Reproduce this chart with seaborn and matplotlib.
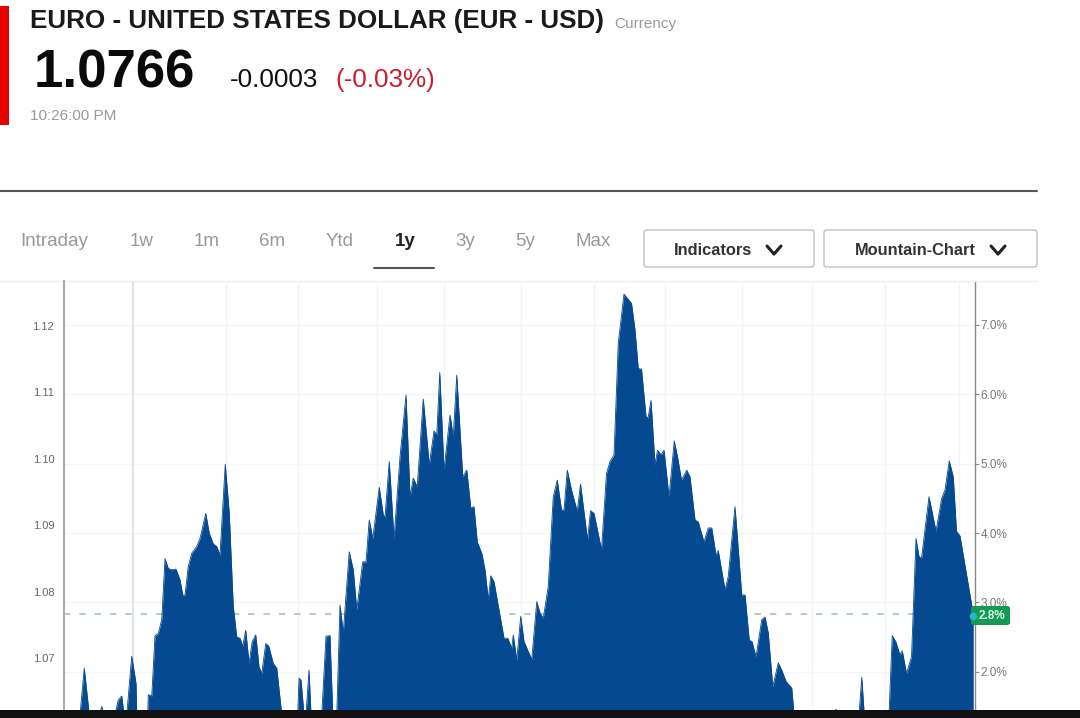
import matplotlib
matplotlib.use("Agg")
import matplotlib.pyplot as plt
from matplotlib.patches import FancyBboxPatch, Rectangle
from matplotlib.lines import Line2D
import pandas as pd
import seaborn as sns

# EUR-USD close over one year (day of the window, price)
days = [0, 6.4, 8.1, 10.1, 14.1, 15.1, 16.0, 20.4, 21.7, 23.1, 24.0, 25.1, 27.1, 28.8, 29.1, 33.5, 33.7, 35.1,
        36.4, 37.7, 39.1, 40.4, 41.7, 43.1, 44.8, 46.4, 47.5, 48.4, 49.7, 51.1, 53.1, 54.4, 56.7, 58.1, 59.7,
        61.1, 62.4, 64.5, 66.1, 67.7, 69.1, 70.4, 71.5, 72.7, 74.0, 75.3, 76.7, 78.0, 79.1, 80.7, 81.9, 83.7,
        85.1, 87.1, 93.5, 94.0, 94.8, 96.0, 96.8, 98.0, 98.8, 103.1, 104.8, 106.4, 107.5, 109.1, 110.4, 111.7,
        114.1, 115.7, 117.1, 119.5, 120.8, 122.1, 123.5, 126.1, 127.7, 128.4, 130.1, 132.0, 134.4, 136.8,
        138.4, 139.7, 141.3, 143.7, 146.1, 148.0, 149.1, 150.3, 152.0, 154.4, 155.7, 157.1, 159.5, 161.1,
        162.7, 164.0, 165.3, 167.1, 168.4, 169.7, 170.7, 172.0, 176.0, 177.5, 179.1, 179.7, 181.1, 182.7,
        184.0, 187.1, 189.1, 190.4, 191.7, 193.7, 195.7, 197.3, 199.0, 200.0, 201.3, 203.0, 205.3, 206.6,
        209.4, 210.6, 212.0, 215.0, 217.0, 218.4, 220.0, 221.7, 224.0, 227.0, 228.4, 229.7, 231.0, 232.8,
        233.6, 234.8, 236.4, 237.4, 238.8, 240.0, 242.0, 244.1, 245.4, 247.0, 249.1, 250.4, 252.4, 253.7,
        256.0, 257.7, 259.1, 260.8, 261.7, 264.4, 265.7, 268.4, 271.1, 272.4, 274.1, 275.2, 276.8, 279.1,
        280.4, 281.7, 283.5, 285.7, 287.1, 288.8, 291.1, 292.0, 307.7, 308.8, 309.9, 318.0, 319.1, 320.1,
        330.0, 331.3, 332.7, 334.4, 335.3, 337.0, 339.0, 340.8, 342.0, 343.0, 346.0, 348.8, 351.1, 352.4,
        354.1, 355.7, 357.0, 358.4, 363.7]
prices = [1.0615, 1.0615, 1.0685, 1.0615, 1.0615, 1.0627, 1.0615, 1.0615, 1.0637, 1.0643, 1.0615, 1.0615, 1.0703,
          1.0662, 1.0615, 1.0615, 1.0645, 1.0643, 1.0734, 1.0737, 1.0758, 1.0850, 1.0835, 1.0833, 1.0834, 1.0818,
          1.0795, 1.0795, 1.0838, 1.0858, 1.0868, 1.0880, 1.0918, 1.0888, 1.0872, 1.0868, 1.0855, 1.0992, 1.0918,
          1.0778, 1.0732, 1.0730, 1.0718, 1.0742, 1.0692, 1.0725, 1.0735, 1.0687, 1.0677, 1.0722, 1.0718, 1.0692,
          1.0685, 1.0615, 1.0615, 1.0670, 1.0667, 1.0615, 1.0615, 1.0682, 1.0615, 1.0615, 1.0733, 1.0734, 1.0615,
          1.0615, 1.0780, 1.0738, 1.0860, 1.0833, 1.0773, 1.0845, 1.0845, 1.0908, 1.0880, 1.0957, 1.0916, 1.0912,
          1.0996, 1.0880, 1.1003, 1.1096, 1.0943, 1.0971, 1.0958, 1.1090, 1.0991, 1.1042, 1.1036, 1.1130, 1.0983,
          1.1066, 1.1033, 1.1126, 1.0973, 1.0983, 1.0926, 1.0928, 1.0875, 1.0858, 1.0833, 1.0788, 1.0824, 1.0815,
          1.0730, 1.0730, 1.0715, 1.0735, 1.0697, 1.0763, 1.0725, 1.0698, 1.0785, 1.0768, 1.0760, 1.0808, 1.0943,
          1.0968, 1.0923, 1.0923, 1.0983, 1.0953, 1.0921, 1.0962, 1.0878, 1.0922, 1.0918, 1.0863, 1.0978, 1.0996,
          1.1006, 1.1174, 1.1248, 1.1234, 1.1194, 1.1136, 1.1135, 1.1064, 1.1061, 1.1088, 1.0991, 1.1013, 1.1006,
          1.1013, 1.0943, 1.1027, 1.1003, 1.0968, 1.0983, 1.0973, 1.0908, 1.0905, 1.0875, 1.0896, 1.0896, 1.0855,
          1.0862, 1.0803, 1.0823, 1.0928, 1.0795, 1.0795, 1.0727, 1.0725, 1.0702, 1.0758, 1.0762, 1.0738, 1.0657,
          1.0693, 1.0682, 1.0665, 1.0655, 1.0615, 1.0615, 1.0623, 1.0615, 1.0615, 1.0671, 1.0615, 1.0615, 1.0734,
          1.0725, 1.0705, 1.0711, 1.0677, 1.0702, 1.0880, 1.0853, 1.0850, 1.0943, 1.0891, 1.0941, 1.0953, 1.0997,
          1.0973, 1.0891, 1.0884, 1.0766]

price_ticks = [1.07, 1.08, 1.09, 1.10, 1.11, 1.12]
price_labels = ["1.07", "1.08", "1.09", "1.10", "1.11", "1.12"]
pct_ticks = [2, 3, 4, 5, 6, 7]
pct_labels = ["2.0%", "3.0%", "4.0%", "5.0%", "6.0%", "7.0%"]
month_days = [27.6, 64.8, 93.6, 125.2, 152, 182.8, 212, 240.4, 271.2, 299.2, 328.4, 358]
last_price = 1.0766
tabs = ["Intraday", "1w", "1m", "6m", "Ytd", "1y", "3y", "5y", "Max"]
tab_x = [54, 142, 207, 272, 340, 405, 465, 525, 593]

BLUE = "#054a91"
W, H = 1080, 718


def fx(x):
    return x / W


def fy(y):
    return 1 - y / H


sns.set_theme(style="white")
plt.rcParams["font.family"] = ["Liberation Sans", "DejaVu Sans"]

df = pd.DataFrame({"day": days, "price": prices})

fig = plt.figure(figsize=(10.8, 7.18), dpi=100, facecolor="white")
rect = [fx(64), fy(710.5), (975 - 64) / W, (710.5 - 281) / H]

# right hand percent axis sits underneath and carries the horizontal grid
ax2 = fig.add_axes(rect)
ax2.set_ylim(1.442, 7.634)
ax2.set_xlim(0, 364.4)
ax2.set_xticks([])
ax2.yaxis.tick_right()
ax2.set_yticks(pct_ticks, pct_labels)
ax2.tick_params(axis="y", length=3, width=0.8, color="#888888", labelcolor="#777777", labelsize=8.5, pad=1)
ax2.grid(axis="y", color="#f5f5f5", linewidth=1)
for name in ["top", "left", "bottom"]:
    ax2.spines[name].set_visible(False)
ax2.spines["right"].set_color("#888888")
ax2.spines["right"].set_linewidth(1)

ax = fig.add_axes(rect, zorder=3)
ax.patch.set_visible(False)
for d in month_days:
    ax.axvline(d, color="#e2e2e2" if d == month_days[0] else "#f4f4f4", lw=1.5 if d == month_days[0] else 1, zorder=0)
ax.axhline(last_price, color="#a9cdb9", lw=1.3, ls=(0, (3.5, 5)), zorder=1)

ax.fill_between(df["day"], df["price"], 1.05, color=BLUE, lw=0, zorder=2)
sns.lineplot(data=df, x="day", y="price", color=BLUE, lw=0.6, sort=False, estimator=None, ax=ax, zorder=3)

ax.set_xlim(0, 364.4)
ax.set_ylim(1.06212, 1.12677)
ax.set_xlabel("")
ax.set_ylabel("")
ax.set_xticks([])
ax.set_yticks(price_ticks, price_labels)
ax.tick_params(axis="y", length=2, width=0.8, color="#aaaaaa", labelcolor="#666666", labelsize=8, pad=5)
for name in ["top", "right", "bottom"]:
    ax.spines[name].set_visible(False)
ax.spines["left"].set_color("#a8a8a8")
ax.spines["left"].set_linewidth(1.5)

# page furniture around the chart
fig.add_artist(Rectangle((0, fy(125)), fx(9), fy(6) - fy(125), color="#e60000", lw=0))
fig.add_artist(Rectangle((0, 0), 1, fy(710), color="#111111", lw=0, zorder=10))
fig.add_artist(Line2D([0, fx(1037)], [fy(191), fy(191)], color="#555555", lw=1.5))
fig.add_artist(Line2D([0, fx(1037)], [fy(281), fy(281)], color="#eeeeee", lw=1))
fig.add_artist(Line2D([fx(374), fx(434)], [fy(268), fy(268)], color="#555555", lw=1.5))

fig.text(fx(30), fy(21), "EURO - UNITED STATES DOLLAR (EUR - USD)", fontsize=18.7, fontweight="bold",
         color="#1a1a1a", va="center")
fig.text(fx(614), fy(24), "Currency", fontsize=11, color="#999999", va="center")
fig.text(fx(34), fy(74), "1.0766", fontsize=38, fontweight="bold", color="#0a0a0a", va="center")
fig.text(fx(230), fy(80), "-0.0003", fontsize=18.8, color="#111111", va="center")
fig.text(fx(335), fy(80), "(-0.03%)", fontsize=18.8, color="#c8202f", va="center")
fig.text(fx(30), fy(116), "10:26:00 PM", fontsize=11, color="#999999", va="center")

for label, x in zip(tabs, tab_x):
    active = label == "1y"
    fig.text(fx(x), fy(242), label, fontsize=13.5, ha="center", va="center",
             color="#222222" if active else "#999999", fontweight="bold" if active else "normal")

for x0, x1, label, tx, cx in [(644, 814, "Indicators", 713, 774), (824, 1037, "Mountain-Chart", 915, 998)]:
    box = FancyBboxPatch((fx(x0), fy(267)), fx(x1 - x0), fy(230) - fy(267),
                         boxstyle="round,pad=0,rounding_size=0.003", fc="white", ec="#a9b4ba", lw=0.8,
                         transform=fig.transFigure)
    fig.add_artist(box)
    fig.text(fx(tx), fy(250), label, fontsize=11.8, fontweight="bold", color="#333333",
             ha="center", va="center")
    fig.add_artist(Line2D([fx(cx - 7), fx(cx), fx(cx + 7)], [fy(246), fy(254), fy(246)], color="#222222", lw=2.2))

# current value badge on the right axis
badge = FancyBboxPatch((fx(971), fy(625)), fx(39), fy(606) - fy(625),
                       boxstyle="round,pad=0,rounding_size=0.003", fc="#159a53", ec="none",
                       transform=fig.transFigure, zorder=8)
fig.add_artist(badge)
fig.text(fx(992), fy(616), "2.8%", fontsize=8.5, fontweight="bold", color="#d8f5e4", ha="center", va="center",
         zorder=9)
fig.add_artist(Line2D([fx(973)], [fy(616)], marker="o", ms=5.5, color="#22b6c8", mew=0, zorder=9))

fig.savefig("out.png", dpi=100, facecolor="white")
